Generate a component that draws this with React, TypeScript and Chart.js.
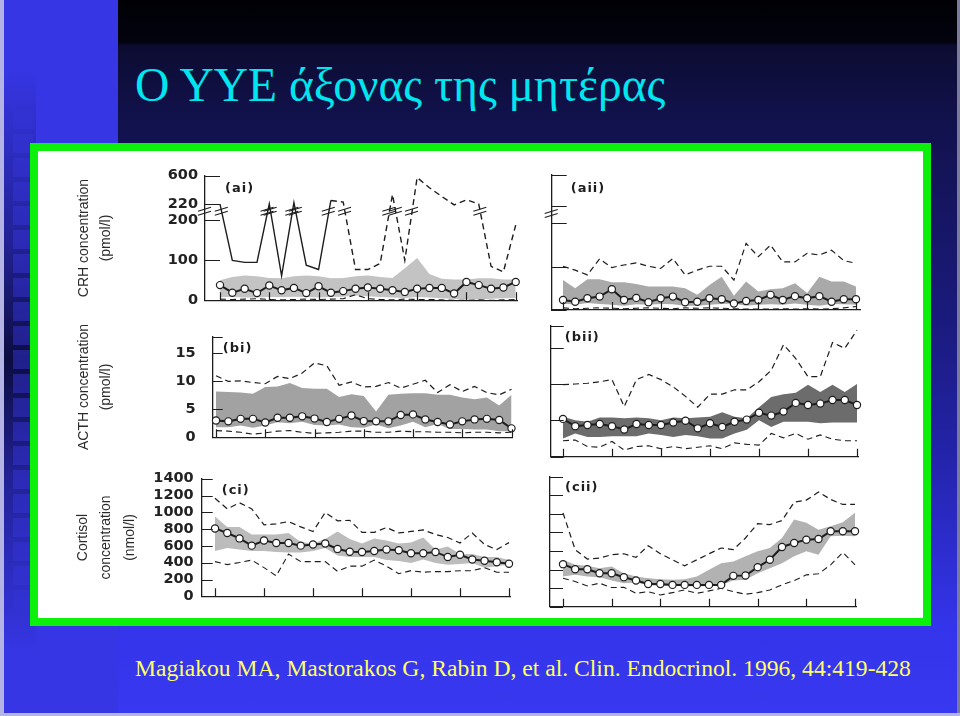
import React, { useEffect, useRef } from 'react';
import { Chart, registerables } from 'chart.js';

Chart.register(...registerables);

// ---------------- data ----------------
const SAMPLE_HOURS = [0, 1, 2, 3, 4, 5, 6, 7, 8, 9, 10, 11, 12, 13, 14, 15, 16, 17, 18, 19, 20, 21, 22, 23, 24];
const X_TICK_HOURS = [0, 4, 8, 12, 16, 20, 24];

const CRH_TICKS = [0, 100, 200, 220, 600];
const CRH_BREAK_VALUE = 210;
const ACTH_TICKS = [0, 5, 10, 15, 18];
const ACTH_TICK_LABELS = ['0', '5', '10', '15', ''];
const CORTISOL_TICKS = [0, 200, 400, 600, 800, 1000, 1200, 1400];

const CRH_TITLE = ['CRH concentration', '(pmol/l)'];
const ACTH_TITLE = ['ACTH concentration', '(pmol/l)'];
const CORTISOL_TITLE = ['Cortisol', 'concentration', '(nmol/l)'];

// (ai) CRH, group i
const AI_UPPER = [220, 100, 95, 95, 221, 61, 240, 88, 77, 268, 247, 77, 77, 92, 348, 100, 576, 438, 322, 219, 277, 220, 85, 71, 188];
const AI_BAND_HI = [50, 58, 62, 60, 56, 55, 60, 62, 60, 55, 56, 60, 62, 58, 56, 80, 106, 66, 54, 52, 52, 55, 55, 52, 52];
const AI_BAND_LO = [8, 8, 7, 7, 8, 8, 9, 8, 7, 8, 9, 12, 10, 8, 7, 6, 8, 7, 5, 3, 2, 2, 4, 5, 6];
const AI_LOWER = [3, 2, 3, 4, 2, 1, 2, 3, 2, 3, 4, 14, 4, 2, 1, 3, 2, 2, 1, 0, 0, 1, 0, 1, 2];
const AI_MEAN = [38, 19, 29, 18, 37, 25, 31, 18, 35, 19, 23, 29, 32, 29, 25, 21, 29, 31, 31, 17, 46, 38, 29, 32, 46];

// (aii) CRH, group ii
const AII_UPPER = [101, 92, 81, 118, 98, 104, 109, 101, 96, 119, 81, 92, 101, 101, 69, 154, 123, 150, 111, 111, 131, 127, 138, 114, 108];
const AII_BAND_HI = [69, 50, 71, 71, 64, 64, 60, 54, 54, 54, 50, 35, 58, 77, 33, 66, 43, 48, 50, 62, 39, 77, 66, 66, 54];
const AII_BAND_LO = [15, 12, 16, 14, 12, 10, 13, 12, 14, 13, 10, 10, 12, 14, 15, 10, 12, 13, 12, 15, 12, 10, 14, 13, 12];
const AII_LOWER = [5, 3, 4, 5, 4, 3, 4, 5, 4, 3, 5, 4, 5, 4, 3, 2, 2, 2, 3, 2, 3, 2, 3, 5, 8];
const AII_MEAN = [23, 19, 27, 31, 48, 23, 28, 18, 27, 31, 18, 19, 27, 25, 15, 21, 23, 35, 23, 32, 27, 32, 19, 25, 25];

// (bi) ACTH, group i
const BI_UPPER = [11, 10, 10.1, 9.8, 9.6, 10.9, 10.5, 11.5, 13.3, 12.8, 9.3, 9.9, 9.0, 9.1, 9.8, 8.8, 9.5, 10.2, 8.0, 9.4, 8.2, 9.1, 8.0, 7.6, 8.6];
const BI_BAND_HI = [8.2, 8.1, 8.0, 7.8, 9.0, 9.1, 9.7, 8.8, 8.7, 8.7, 7.2, 7.7, 7.4, 4.6, 7.6, 7.8, 7.9, 7.9, 7.6, 7.6, 7.1, 6.8, 7.1, 5.7, 7.6];
const BI_BAND_LO = [1.8, 1.8, 2.1, 1.7, 2.1, 2.7, 2.5, 2.8, 2.2, 2.1, 2.3, 1.8, 1.7, 2.3, 1.6, 2.1, 2.8, 1.8, 2.4, 1.5, 1.5, 1.4, 1.4, 1.1, 1.1];
const BI_LOWER = [1.2, 1.1, 0.9, 0.55, 0.8, 1.1, 1.2, 0.9, 0.7, 0.8, 0.9, 1.1, 1.1, 0.9, 0.9, 1.1, 1.0, 1.0, 0.9, 0.9, 0.8, 0.9, 0.9, 0.8, 0.9];
const BI_MEAN = [3.0, 2.85, 3.3, 3.3, 2.65, 3.5, 3.5, 3.75, 3.35, 2.75, 3.3, 3.9, 2.9, 2.85, 2.85, 4.0, 4.1, 3.2, 2.75, 2.3, 2.85, 3.2, 3.3, 3.1, 1.6];

// (bii) ACTH, group ii
const BII_UPPER = [9.9, 10.0, 10.1, 10.3, 10.6, 6.9, 10.6, 11.3, 10.6, 9.6, 8.3, 6.8, 8.6, 8.6, 9.2, 9.2, 10.3, 11.9, 15.4, 13.5, 11.0, 11.0, 15.7, 14.9, 17.4];
const BII_BAND_HI = [5.5, 5.0, 4.8, 5.4, 5.4, 5.3, 5.4, 5.3, 5.0, 5.4, 5.3, 5.4, 5.5, 6.1, 5.5, 5.3, 6.8, 8.2, 8.6, 8.8, 9.9, 8.9, 9.9, 8.9, 10.0];
const BII_BAND_LO = [2.5, 3.2, 2.7, 2.7, 2.8, 2.8, 2.8, 3.2, 3.0, 2.7, 3.0, 2.8, 2.5, 2.5, 3.2, 3.7, 5.0, 4.1, 4.8, 4.8, 4.8, 4.6, 4.7, 4.7, 4.7];
const BII_LOWER = [2.2, 2.3, 1.4, 1.3, 2.1, 0.9, 1.4, 1.5, 1.1, 1.4, 1.1, 1.3, 1.5, 1.1, 1.9, 1.7, 1.6, 3.2, 2.6, 3.2, 2.4, 3.0, 2.4, 2.2, 2.2];
const BII_MEAN = [5.2, 4.2, 4.35, 4.5, 4.2, 3.75, 4.5, 4.35, 4.35, 4.7, 4.95, 3.9, 4.6, 4.1, 4.8, 5.1, 6.05, 5.65, 6.2, 7.4, 7.1, 7.3, 7.8, 7.8, 7.1];

// (ci) Cortisol, group i
const CI_UPPER = [1167, 1041, 1113, 1041, 851, 862, 890, 826, 772, 998, 898, 905, 761, 761, 819, 754, 772, 790, 736, 700, 635, 754, 617, 556, 639];
const CI_BAND_HI = [951, 826, 826, 736, 736, 736, 754, 646, 628, 682, 772, 682, 628, 689, 664, 628, 639, 700, 556, 592, 503, 503, 467, 467, 431];
const CI_BAND_LO = [539, 574, 556, 539, 539, 528, 521, 521, 539, 574, 485, 467, 467, 467, 431, 420, 395, 438, 395, 377, 384, 395, 341, 359, 377];
const CI_LOWER = [413, 377, 402, 431, 341, 244, 503, 413, 413, 413, 298, 359, 359, 431, 359, 269, 305, 287, 294, 294, 305, 305, 341, 287, 287];
const CI_MEAN = [808, 754, 689, 603, 664, 635, 635, 603, 617, 628, 564, 531, 528, 539, 556, 549, 513, 513, 528, 467, 495, 438, 424, 406, 388];

// (cii) Cortisol, group ii
const CII_UPPER = [1011, 614, 513, 523, 560, 570, 531, 657, 570, 505, 440, 505, 570, 632, 614, 740, 895, 884, 928, 1126, 1148, 1235, 1155, 1101, 1101];
const CII_BAND_HI = [505, 451, 440, 415, 433, 361, 325, 307, 296, 289, 296, 325, 397, 469, 487, 542, 596, 632, 740, 939, 903, 830, 866, 910, 1011];
const CII_BAND_LO = [325, 343, 325, 318, 282, 253, 260, 235, 224, 224, 224, 217, 224, 235, 282, 289, 361, 415, 469, 542, 596, 560, 758, 765, 758];
const CII_LOWER = [307, 271, 224, 253, 206, 209, 144, 162, 126, 152, 180, 144, 170, 198, 162, 134, 152, 180, 235, 282, 343, 354, 451, 585, 451];
const CII_MEAN = [458, 404, 404, 361, 361, 318, 282, 245, 245, 235, 235, 235, 235, 235, 332, 336, 426, 505, 643, 686, 722, 729, 812, 812, 812];

// broken CRH axis: 0-200 linear, 200-220 across the break, 220-600 compressed
function crhAxis(v: number): number {
  if (v <= 200) return v;
  if (v <= 220) return 200 + (v - 200) * 2.04;
  return 240.8 + (v - 220) * 0.1868;
}

const INK = '#1d1d1d';
const TICK_FONT = { family: '"DejaVu Sans", sans-serif', size: 14.5, weight: 'bold' as const };

// ---------------- plugin: inward ticks, breaks, panel label ----------------
function drawBreak(ctx: CanvasRenderingContext2D, x: number, y: number) {
  ctx.beginPath();
  ctx.moveTo(x - 7, y + 1);
  ctx.lineTo(x + 6, y - 3);
  ctx.moveTo(x - 7, y + 5);
  ctx.lineTo(x + 6, y + 1);
  ctx.stroke();
}

const paperPlugin = {
  id: 'paper',
  afterDraw(chart: any, _args: any, opts: any) {
    const { ctx, chartArea: ca, scales } = chart;
    const xs = scales.x;
    const ys = scales.y;
    ctx.save();
    ctx.strokeStyle = INK;
    ctx.lineWidth = 1.2;
    ctx.beginPath();
    for (const t of ys.ticks) {
      const py = Math.round(ys.getPixelForValue(t.value)) + 0.5;
      ctx.moveTo(ca.left, py);
      ctx.lineTo(ca.left + opts.yTickLen, py);
    }
    for (const v of X_TICK_HOURS) {
      const px = Math.round(xs.getPixelForValue(v)) + 0.5;
      ctx.moveTo(px, ca.bottom);
      ctx.lineTo(px, ca.bottom - 8);
    }
    ctx.stroke();
    if (opts.breakAt != null) {
      const py = ys.getPixelForValue(opts.breakAt);
      ctx.lineWidth = 1.1;
      drawBreak(ctx, ca.left, py - 2);
      if (opts.breakLine) {
        const pts = chart.getDatasetMeta(1).data;
        for (let i = 0; i < pts.length - 1; i++) {
          const a = pts[i];
          const b = pts[i + 1];
          if ((a.y - py) * (b.y - py) < 0) {
            const f = (py - a.y) / (b.y - a.y);
            drawBreak(ctx, a.x + f * (b.x - a.x), py - 2);
          }
        }
      }
    }
    ctx.fillStyle = INK;
    ctx.font = 'bold 13px "DejaVu Sans", sans-serif';
    (ctx as any).letterSpacing = '1px';
    ctx.textBaseline = 'middle';
    ctx.textAlign = 'left';
    ctx.fillText(opts.label, ca.left + opts.labelDx, ca.top + opts.labelDy);
    ctx.restore();
  },
};

// ---------------- panels ----------------
type Panel = {
  key: string;
  label: string;
  left: number; top: number; width: number; height: number;
  axisX: number; firstX: number; lastX: number; rightX: number;
  topY: number; bottomY: number;
  yMax: number; yTicks: number[]; yLabels: string[];
  showLabels: boolean; labelPad: number;
  title?: string[]; titleLH?: number; titlePad?: number;
  transform?: (v: number) => number;
  upper: number[]; bandHi: number[]; bandLo: number[]; lower: number[]; mean: number[];
  bandColor: string;
  yTickLen: number; labelDx: number; labelDy: number;
  breakAt?: number; breakLine?: boolean; dashFrom?: number;
};

const LEFT_COL = 60;
const RIGHT_COL = 540;

const PANELS: Panel[] = [
  {
    key: 'ai', label: '(ai)', left: LEFT_COL, top: 160, width: 470, height: 156,
    axisX: 205, firstX: 220, lastX: 515.7, rightX: 517, topY: 175, bottomY: 310,
    yMax: crhAxis(600), yTicks: CRH_TICKS.map(crhAxis), yLabels: CRH_TICKS.map(String),
    showLabels: true, labelPad: 7, title: CRH_TITLE, titleLH: 22, titlePad: 13,
    transform: crhAxis,
    upper: AI_UPPER, bandHi: AI_BAND_HI, bandLo: AI_BAND_LO, lower: AI_LOWER, mean: AI_MEAN,
    bandColor: '#c3c3c3', yTickLen: 15, labelDx: 20, labelDy: 13,
    breakAt: crhAxis(CRH_BREAK_VALUE), breakLine: true, dashFrom: 9,
  },
  {
    key: 'aii', label: '(aii)', left: RIGHT_COL, top: 160, width: 330, height: 156,
    axisX: 551.7, firstX: 563, lastX: 856, rightX: 860, topY: 175, bottomY: 310,
    yMax: crhAxis(600), yTicks: CRH_TICKS.map(crhAxis), yLabels: CRH_TICKS.map(String),
    showLabels: false, labelPad: 7,
    transform: crhAxis,
    upper: AII_UPPER, bandHi: AII_BAND_HI, bandLo: AII_BAND_LO, lower: AII_LOWER, mean: AII_MEAN,
    bandColor: '#a9a9a9', yTickLen: 15, labelDx: 19, labelDy: 14,
    breakAt: crhAxis(CRH_BREAK_VALUE), breakLine: false,
  },
  {
    key: 'bi', label: '(bi)', left: LEFT_COL, top: 311, width: 470, height: 152,
    axisX: 212.7, firstX: 216, lastX: 511.5, rightX: 512.5, topY: 325.8, bottomY: 456.7,
    yMax: 18, yTicks: ACTH_TICKS, yLabels: ACTH_TICK_LABELS,
    showLabels: true, labelPad: 17, title: ACTH_TITLE, titleLH: 22, titlePad: 13,
    upper: BI_UPPER, bandHi: BI_BAND_HI, bandLo: BI_BAND_LO, lower: BI_LOWER, mean: BI_MEAN,
    bandColor: '#a2a2a2', yTickLen: 10, labelDx: 10, labelDy: 12,
  },
  {
    key: 'bii', label: '(bii)', left: RIGHT_COL, top: 311, width: 330, height: 152,
    axisX: 550.7, firstX: 563, lastX: 857, rightX: 858.3, topY: 325.8, bottomY: 456.7,
    yMax: 18, yTicks: ACTH_TICKS, yLabels: ACTH_TICK_LABELS,
    showLabels: false, labelPad: 17,
    upper: BII_UPPER, bandHi: BII_BAND_HI, bandLo: BII_BAND_LO, lower: BII_LOWER, mean: BII_MEAN,
    bandColor: '#6c6c6c', yTickLen: 13, labelDx: 14, labelDy: 12,
  },
  {
    key: 'ci', label: '(ci)', left: LEFT_COL, top: 462, width: 470, height: 151,
    axisX: 201.7, firstX: 215, lastX: 509, rightX: 510, topY: 476.7, bottomY: 606.7,
    yMax: 1400, yTicks: CORTISOL_TICKS, yLabels: CORTISOL_TICKS.map(String),
    showLabels: true, labelPad: 8, title: CORTISOL_TITLE, titleLH: 23.5, titlePad: 11.25,
    upper: CI_UPPER, bandHi: CI_BAND_HI, bandLo: CI_BAND_LO, lower: CI_LOWER, mean: CI_MEAN,
    bandColor: '#bcbcbc', yTickLen: 11, labelDx: 20, labelDy: 12,
  },
  {
    key: 'cii', label: '(cii)', left: RIGHT_COL, top: 462, width: 330, height: 151,
    axisX: 550, firstX: 563, lastX: 855, rightX: 856.7, topY: 476.7, bottomY: 606.7,
    yMax: 1400, yTicks: CORTISOL_TICKS, yLabels: CORTISOL_TICKS.map(String),
    showLabels: false, labelPad: 8,
    upper: CII_UPPER, bandHi: CII_BAND_HI, bandLo: CII_BAND_LO, lower: CII_LOWER, mean: CII_MEAN,
    bandColor: '#b2b2b2', yTickLen: 13, labelDx: 15, labelDy: 11,
  },
];

function buildConfig(p: Panel): any {
  const tf = p.transform || ((v: number) => v);
  const unit = (p.lastX - p.firstX) / (SAMPLE_HOURS.length - 1);
  const xMin = -(p.firstX - p.axisX) / unit;
  const xMax = SAMPLE_HOURS[SAMPLE_HOURS.length - 1] + (p.rightX - p.lastX) / unit;
  const dashed = [6, 4];
  const upperDs: any = {
    data: p.upper.map(tf), borderColor: INK, borderWidth: 1.2, pointRadius: 0, fill: false,
    borderDash: p.dashFrom != null ? [] : dashed, clip: false,
  };
  if (p.dashFrom != null) {
    upperDs.borderWidth = 1.4;
    upperDs.segment = { borderDash: (c: any) => (c.p0DataIndex >= (p.dashFrom as number) ? dashed : undefined) };
  }
  return {
    type: 'line',
    data: {
      labels: SAMPLE_HOURS,
      datasets: [
        {
          data: p.mean.map(tf), borderColor: INK, borderWidth: 2, pointRadius: 3.6,
          pointBackgroundColor: '#ffffff', pointBorderColor: INK, pointBorderWidth: 1.2,
          fill: false, clip: false,
        },
        upperDs,
        { data: p.lower.map(tf), borderColor: INK, borderWidth: 1.1, borderDash: dashed, pointRadius: 0, fill: false },
        { data: p.bandHi.map(tf), borderWidth: 0, pointRadius: 0, fill: false, borderColor: 'rgba(0,0,0,0)' },
        { data: p.bandLo.map(tf), borderWidth: 0, pointRadius: 0, fill: '-1', borderColor: 'rgba(0,0,0,0)', backgroundColor: p.bandColor },
      ],
    },
    options: {
      animation: false,
      responsive: false,
      maintainAspectRatio: false,
      events: [],
      elements: { line: { tension: 0 } },
      layout: {
        padding: {
          left: 0,
          top: p.topY - p.top,
          right: p.left + p.width - p.rightX,
          bottom: p.top + p.height - p.bottomY,
        },
      },
      plugins: {
        legend: { display: false },
        tooltip: { enabled: false },
        paper: {
          yTickLen: p.yTickLen, label: p.label, labelDx: p.labelDx, labelDy: p.labelDy,
          breakAt: p.breakAt, breakLine: p.breakLine,
        },
      },
      scales: {
        x: {
          type: 'linear', min: xMin, max: xMax,
          ticks: { display: false },
          grid: { display: true, drawOnChartArea: false, drawTicks: false },
          border: { display: true, color: INK, width: 1.3 },
          afterFit: (s: any) => { s.height = 0; },
        },
        y: {
          type: 'linear', min: 0, max: p.yMax,
          afterBuildTicks: (s: any) => { s.ticks = p.yTicks.map((v) => ({ value: v })); },
          ticks: {
            display: p.showLabels, autoSkip: false, padding: p.labelPad, color: '#222',
            font: TICK_FONT,
            callback: (_v: any, i: number) => p.yLabels[i],
          },
          grid: { display: true, drawOnChartArea: false, drawTicks: false },
          border: { display: true, color: INK, width: 1.3 },
          title: p.title
            ? {
                display: true, text: p.title, color: '#2a2a2a',
                font: { family: '"Liberation Sans", Arial, sans-serif', size: 14, lineHeight: (p.titleLH as number) / 14 },
                padding: { top: p.titlePad, bottom: 0 },
              }
            : { display: false },
          afterFit: (s: any) => { s.width = p.axisX - p.left; },
        },
      },
    },
    plugins: [paperPlugin],
  };
}

function PanelChart({ p }: { p: Panel }) {
  const ref = useRef<HTMLCanvasElement>(null);
  useEffect(() => {
    const chart = new Chart(ref.current as HTMLCanvasElement, buildConfig(p));
    return () => chart.destroy();
  }, [p]);
  return (
    <canvas
      ref={ref}
      width={p.width}
      height={p.height}
      style={{ position: 'absolute', left: p.left, top: p.top, width: p.width, height: p.height }}
    />
  );
}

const SQUARE_ROWS = [110, 134, 158, 182, 206, 230, 254, 278, 302, 326, 350, 374, 398, 422, 446, 470, 494, 518, 542, 566, 590];

export default function App() {
  return (
    <div
      style={{
        position: 'absolute', left: 0, top: 0, width: 960, height: 716, overflow: 'hidden',
        background:
          'linear-gradient(to bottom, #000005 0px, #03030f 42px, #0c0c32 46px, #11114a 110px, #151560 200px, #1b1b80 330px, #2323a8 450px, #2d2dcf 550px, #3434ea 625px, #3838f0 716px)',
      }}
    >
      {/* left decorative strip */}
      <div style={{ position: 'absolute', left: 0, top: 0, width: 118, height: 716, background: '#3636e4' }} />
      <div
        style={{
          position: 'absolute', left: 4, top: 70, width: 32, height: 580,
          background: 'linear-gradient(to bottom, rgba(8,8,50,0) 0%, rgba(8,8,50,0.45) 30%, rgba(5,5,35,0.85) 50%, rgba(8,8,50,0.45) 70%, rgba(8,8,50,0) 100%)',
        }}
      />
      {SQUARE_ROWS.map((y) => (
        <div key={y} style={{ position: 'absolute', left: 13, top: y, width: 20, height: 19, background: 'rgba(52,52,215,0.5)' }} />
      ))}
      <div style={{ position: 'absolute', left: 0, top: 0, width: 4, height: 716, background: '#b4b4e4' }} />
      <div style={{ position: 'absolute', left: 957, top: 0, width: 3, height: 716, background: '#7a7a9a' }} />
      <div style={{ position: 'absolute', left: 0, top: 713, width: 960, height: 3, background: '#b4b4e4' }} />

      {/* title */}
      <div
        style={{
          position: 'absolute', left: 135, top: 62, whiteSpace: 'nowrap',
          fontFamily: '"Liberation Serif", "Times New Roman", serif', fontSize: 47.5, lineHeight: '47.5px', color: '#00e6ef',
        }}
      >
        Ο ΥΥΕ άξονας της μητέρας
      </div>

      {/* figure box */}
      <div
        style={{
          position: 'absolute', left: 30, top: 143, width: 901, height: 483, boxSizing: 'border-box',
          border: '8px solid #0cf00c', background: '#ffffff',
        }}
      />
      {PANELS.map((p) => (
        <PanelChart key={p.key} p={p} />
      ))}

      {/* citation */}
      <div
        style={{
          position: 'absolute', left: 135, top: 657, whiteSpace: 'nowrap',
          fontFamily: '"Liberation Serif", "Times New Roman", serif', fontSize: 23.6, lineHeight: '23.6px', color: '#ffff66',
        }}
      >
        Magiakou MA, Mastorakos G, Rabin D, et al. Clin. Endocrinol. 1996, 44:419-428
      </div>
    </div>
  );
}
